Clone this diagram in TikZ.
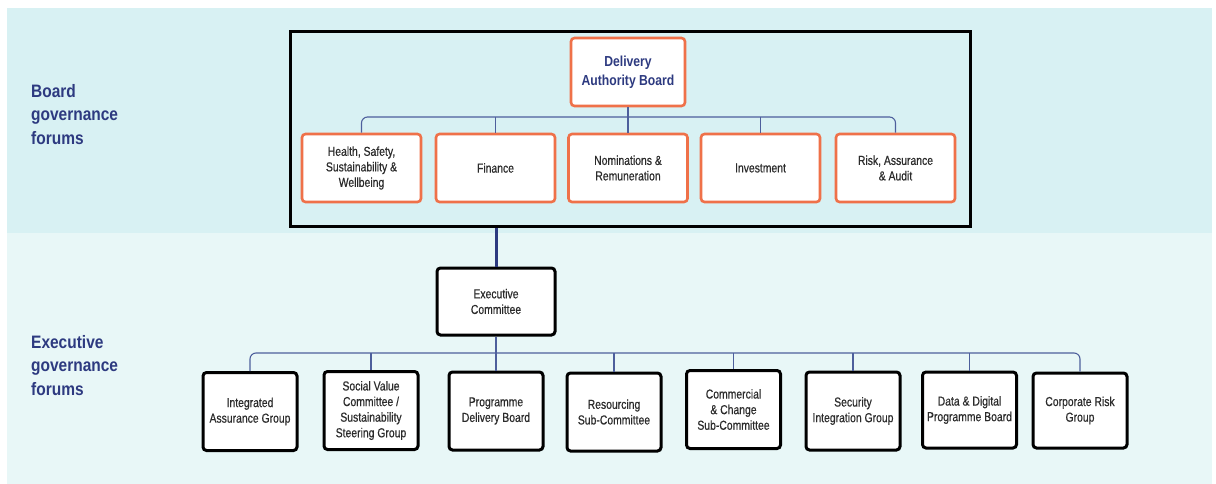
\documentclass[tikz,border=0pt]{standalone}
\usepackage{fontspec}
\setmainfont{Liberation Sans}[FakeStretch=0.8, FakeBold=0.5]
\newfontfamily\labelfont{Liberation Sans}[FakeStretch=0.86]
\newfontfamily\dabfont{Liberation Sans}[FakeStretch=0.84]
\definecolor{bgtop}{HTML}{D8F1F3}
\definecolor{bgbot}{HTML}{E8F7F7}
\definecolor{navy}{HTML}{2D3A80}
\definecolor{orng}{HTML}{EF7149}
\definecolor{busblue}{HTML}{4D5F9C}
\definecolor{txtgray}{HTML}{2B2B2B}
\tikzset{
  boardbox/.style={draw=orng, line width=2.6pt, fill=white, rounded corners=3.5pt,
    minimum width=119pt, minimum height=68pt, align=center, inner sep=2pt,
    font=\fontsize{13}{15.5}\selectfont, text=txtgray},
  execbox/.style={draw=black, line width=3pt, fill=white, rounded corners=3.5pt,
    minimum width=94pt, minimum height=78pt, align=center, inner sep=2pt,
    font=\fontsize{13}{15.6}\selectfont, text=txtgray},
  bus/.style={draw=busblue, line width=1.1pt},
  sidelabel/.style={anchor=north west, align=left, text=navy, inner sep=0pt,
    font=\labelfont\bfseries\fontsize{18}{23.5}\selectfont}
}
\begin{document}
\begin{tikzpicture}[x=1pt,y=-1pt]
\useasboundingbox (0,0) rectangle (1216,484);
% backgrounds
\fill[bgtop] (7,8) rectangle (1212,233);
\fill[bgbot] (7,233) rectangle (1212,484);
% side labels
\node[sidelabel] (lab1) at (31,84) {Board\\governance\\forums};
\node[sidelabel] (lab2) at (31,335) {Executive\\governance\\forums};
% black frame
\node[draw=black, line width=3pt, minimum width=680pt, minimum height=194pt, inner sep=0pt] (frame) at (630,129) {};
% board boxes
\node[boardbox, minimum width=114pt, text=navy, font=\dabfont\bfseries\fontsize{14.5}{19}\selectfont] (dab) at (628,72) {Delivery\\Authority Board};
\node[boardbox] (hssw) at (361.5,168) {Health, Safety,\\Sustainability \&\\Wellbeing};
\node[boardbox] (fin) at (495.5,168) {Finance};
\node[boardbox] (nom) at (628,168) {Nominations \&\\Remuneration};
\node[boardbox] (inv) at (760.5,168) {Investment};
\node[boardbox] (risk) at (895.5,168) {Risk, Assurance\\\& Audit};
% board bus
\coordinate (bus1) at (628,117);
\draw[bus, rounded corners=6pt] (hssw.north) -- (hssw.north |- bus1) -- (risk.north |- bus1) -- (risk.north);
\draw[bus] (dab.south) -- (nom.north);
\draw[bus] (fin.north |- bus1) -- (fin.north);
\draw[bus] (inv.north |- bus1) -- (inv.north);
% executive committee
\node[execbox, minimum width=118pt, minimum height=67pt] (exec) at (496,301.5) {Executive\\Committee};
\draw[navy, line width=3pt] (frame.south -| exec.north) -- (exec.north);
% executive boxes
\node[execbox] (iag) at (250,411.5) {Integrated\\Assurance Group};
\node[execbox] (svc) at (371,410.5) {Social Value\\Committee /\\Sustainability\\Steering Group};
\node[execbox] (pdb) at (496,411) {Programme\\Delivery Board};
\node[execbox] (res) at (614,412) {Resourcing\\Sub-Committee};
\node[execbox] (comm) at (733.5,409.5) {Commercial\\\& Change\\Sub-Committee};
\node[execbox] (sec) at (853,411) {Security\\Integration Group};
\node[execbox, minimum height=76pt] (dd) at (969.5,410) {Data \& Digital\\Programme Board};
\node[execbox, minimum height=75pt] (crg) at (1080,410.5) {Corporate Risk\\Group};
% executive bus
\coordinate (bus2) at (496,353);
\draw[bus, rounded corners=6pt] (iag.north) -- (iag.north |- bus2) -- (crg.north |- bus2) -- (crg.north);
\draw[bus] (exec.south) -- (pdb.north);
\foreach \n in {svc,res,comm,sec,dd}{
  \draw[bus] (\n.north |- bus2) -- (\n.north);
}
\end{tikzpicture}
\end{document}
